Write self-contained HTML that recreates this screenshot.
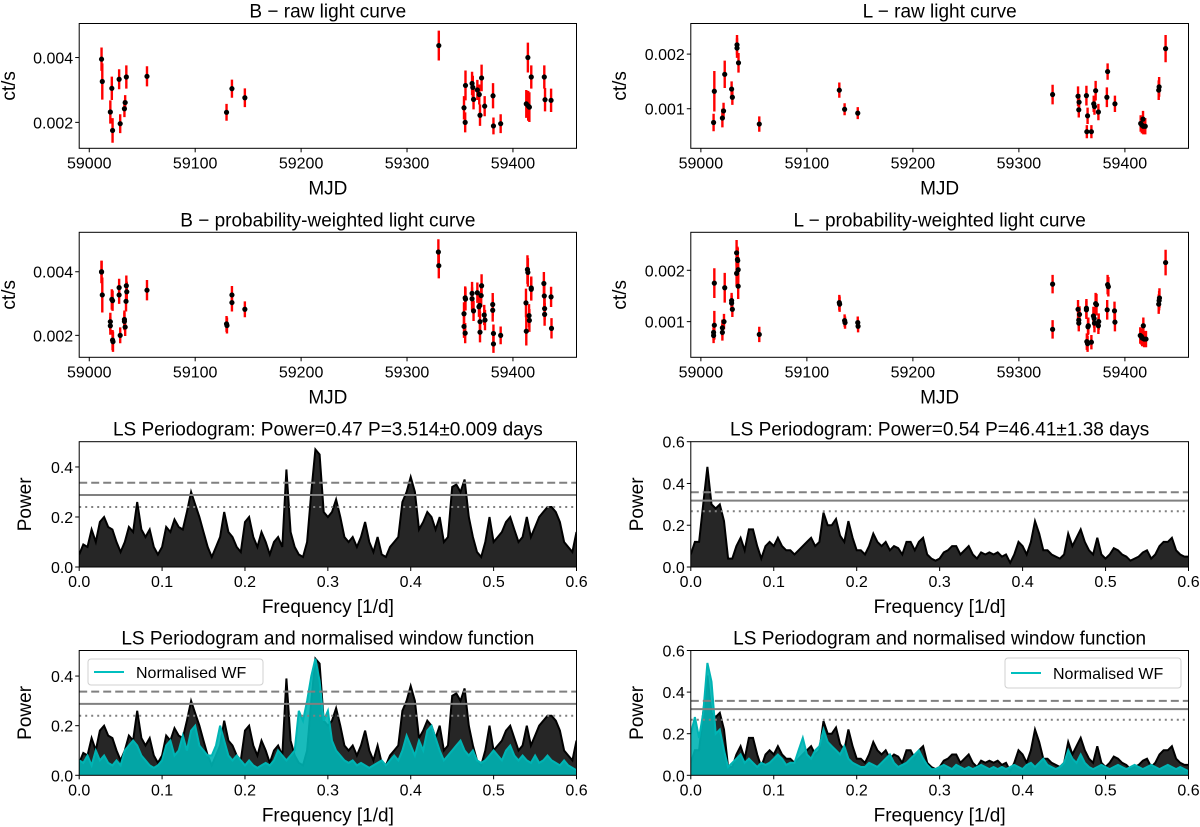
<!DOCTYPE html>
<html><head><meta charset="utf-8"><style>
html,body{margin:0;padding:0;background:#fff;}
svg{display:block;font-family:"Liberation Sans","DejaVu Sans",sans-serif;}
</style></head><body>
<svg id="fig" width="1200" height="827" viewBox="0 0 1200 827"></svg>
<script>
// ---------- Light curve data (MJD offsets from 59000, ct/s) ----------
const bRawDay=[11.6,12.3,19.9,21.3,22.0,28.2,29.2,33.2,33.9,35.0,54.5,129.6,134.7,146.9,330.0,353.8,354.9,355.2,361.4,362.1,362.8,366.4,368.2,368.9,370.4,373.3,381.2,381.6,388.4,412.6,414.1,414.4,415.5,417.3,429.6,430.3,436.0];
const bRawVal=[0.00395,0.00326,0.00232,0.00305,0.00175,0.00333,0.00196,0.00242,0.00261,0.0034,0.00342,0.00231,0.00304,0.00276,0.00437,0.00245,0.0020,0.00314,0.0032,0.00308,0.00271,0.0030,0.00286,0.00222,0.00337,0.0025,0.00282,0.00189,0.00196,0.00257,0.0040,0.00251,0.00247,0.0034,0.0034,0.0027,0.00268];
const bRawErr=[0.00036,0.00056,0.00036,0.00036,0.00038,0.00031,0.00029,0.00026,0.00023,0.00036,0.00031,0.00026,0.00028,0.00029,0.00046,0.00036,0.00031,0.00046,0.00036,0.00036,0.00031,0.00031,0.00031,0.00033,0.00041,0.00031,0.00039,0.00026,0.00029,0.00043,0.00046,0.00046,0.00046,0.00036,0.00036,0.00036,0.00036];

const lRawDay=[12.0,12.7,20.3,21.4,22.5,29.0,29.7,34.1,34.1,35.5,55.1,130.6,135.6,148.0,331.8,355.8,356.8,356.5,363.7,364.8,364.1,368.4,370.6,371.3,372.4,375.0,383.7,383.0,390.6,414.9,416.0,417.1,417.4,419.2,431.9,432.3,438.4];
const lRawVal=[0.000748,0.00132,0.00083,0.00096,0.00163,0.00136,0.00121,0.00217,0.00211,0.00184,0.00072,0.00134,0.00099,0.00092,0.00126,0.00123,0.00112,0.00098,0.00124,0.00087,0.00058,0.00058,0.00109,0.00104,0.00133,0.00094,0.00168,0.00121,0.00109,0.00073,0.0007,0.00081,0.00068,0.00068,0.00134,0.0014,0.0021];
const lRawErr=[0.00016,0.00037,0.00017,0.00015,0.00025,0.00014,0.00014,0.00018,0.00018,0.00018,0.00014,0.00014,0.00011,0.00011,0.00018,0.00018,0.00015,0.00014,0.00018,0.00015,0.00012,0.00012,0.00015,0.00015,0.00018,0.00015,0.00015,0.00018,0.00015,0.00015,0.00015,0.00015,0.00015,0.00015,0.00018,0.00018,0.00025];

const bPwDay=[11.6,11.6,12.3,19.9,19.9,21.3,22.0,22.0,22.4,28.2,28.2,29.2,33.2,33.2,33.9,34.7,35.0,35.4,54.5,129.6,130.0,134.7,134.7,146.9,329.6,330.0,353.8,353.8,354.9,354.9,355.2,361.4,361.4,362.8,366.4,367.9,368.6,368.9,368.9,370.0,370.4,372.9,373.6,380.9,380.9,381.6,381.6,388.4,412.3,412.6,413.7,414.1,415.2,415.5,417.3,417.3,429.2,429.6,429.9,429.9,436.0,436.4];
const bPwVal=[0.00399,0.004,0.00327,0.00243,0.0023,0.00313,0.00309,0.00185,0.0018,0.0035,0.00327,0.002,0.0025,0.00244,0.00226,0.00307,0.00356,0.00337,0.00342,0.00236,0.00231,0.00327,0.00303,0.00282,0.00462,0.00419,0.00268,0.00228,0.00207,0.00318,0.00314,0.00332,0.00315,0.00277,0.00334,0.0029,0.00294,0.00243,0.0021,0.00325,0.00356,0.00264,0.00248,0.00297,0.00279,0.00206,0.00173,0.002,0.00302,0.00213,0.00407,0.00398,0.00262,0.00247,0.00349,0.00345,0.00363,0.00324,0.00284,0.00266,0.00321,0.00222];
const bPwErr=[0.00035,0.00035,0.00055,0.00028,0.00028,0.00032,0.00032,0.00032,0.00032,0.00028,0.00028,0.00025,0.00028,0.00028,0.00028,0.00032,0.00032,0.00032,0.00032,0.00025,0.00025,0.00028,0.00028,0.00025,0.0004,0.0004,0.00036,0.00036,0.00032,0.00036,0.00036,0.00036,0.00036,0.00032,0.00032,0.00032,0.00032,0.00032,0.00032,0.00036,0.00036,0.00032,0.00032,0.00036,0.00036,0.00028,0.00028,0.00028,0.00045,0.00045,0.00045,0.00045,0.00036,0.00036,0.00036,0.00036,0.00036,0.00036,0.00036,0.00036,0.00032,0.00032];

const lPwDay=[12.0,12.0,12.7,12.7,20.3,20.3,21.8,22.5,29.0,29.0,29.7,33.7,34.5,34.8,33.7,35.2,35.2,55.1,130.6,130.9,135.6,136.0,148.0,148.3,331.8,331.8,355.8,356.5,356.5,357.2,363.7,363.7,364.1,364.8,365.2,365.5,368.4,370.3,371.0,371.3,372.4,373.2,375.0,375.3,383.3,383.7,384.4,390.2,390.6,414.5,415.6,416.3,417.4,418.1,419.9,431.9,432.3,432.6,438.4];
const lPwVal=[0.00079,0.00073,0.00093,0.00175,0.00088,0.00079,0.001,0.00166,0.00141,0.00136,0.00124,0.00234,0.00221,0.00219,0.00194,0.00201,0.00169,0.00075,0.00137,0.00134,0.00102,0.00098,0.00098,0.00091,0.00173,0.00085,0.00124,0.00103,0.00097,0.00114,0.00126,0.00123,0.00061,0.00057,0.0009,0.00092,0.0006,0.00111,0.00106,0.00097,0.00135,0.00133,0.00092,0.001,0.00123,0.00172,0.00168,0.00121,0.00099,0.00073,0.00071,0.00068,0.00092,0.00066,0.00066,0.00134,0.00141,0.00146,0.00215];
const lPwErr=[0.00015,0.00015,0.00028,0.00029,0.00016,0.00016,0.00015,0.00029,0.00015,0.00015,0.00015,0.00025,0.00025,0.00025,0.00025,0.00025,0.00025,0.00015,0.00015,0.00015,0.00012,0.00012,0.00012,0.00012,0.00018,0.00018,0.00018,0.00016,0.00016,0.00016,0.00018,0.00018,0.00016,0.00016,0.00016,0.00016,0.00014,0.00018,0.00018,0.00018,0.00021,0.00021,0.00016,0.00016,0.00019,0.00019,0.00019,0.00018,0.00018,0.00016,0.00016,0.00016,0.00016,0.00016,0.00016,0.00019,0.00019,0.00019,0.00025];

// ---------- Periodogram data (frequency step 0.005 from 0 to 0.6) ----------
const freqStep=0.005;
const bPower=[0.05,0.09,0.08,0.15,0.10,0.18,0.20,0.16,0.15,0.10,0.06,0.10,0.16,0.14,0.26,0.15,0.12,0.15,0.08,0.05,0.08,0.16,0.14,0.19,0.16,0.15,0.22,0.30,0.25,0.20,0.14,0.08,0.04,0.08,0.12,0.22,0.14,0.12,0.08,0.06,0.18,0.20,0.12,0.08,0.14,0.10,0.05,0.10,0.12,0.08,0.39,0.14,0.08,0.05,0.04,0.10,0.30,0.47,0.45,0.22,0.20,0.22,0.27,0.20,0.12,0.10,0.12,0.08,0.12,0.18,0.10,0.06,0.12,0.05,0.04,0.08,0.10,0.12,0.26,0.30,0.36,0.30,0.15,0.18,0.22,0.20,0.15,0.20,0.10,0.12,0.32,0.33,0.30,0.35,0.20,0.12,0.06,0.04,0.10,0.20,0.10,0.12,0.14,0.18,0.20,0.15,0.10,0.12,0.20,0.12,0.16,0.20,0.22,0.24,0.24,0.22,0.18,0.10,0.08,0.06,0.14];
const lPower=[0.06,0.12,0.12,0.30,0.48,0.30,0.28,0.30,0.22,0.04,0.04,0.10,0.14,0.08,0.18,0.18,0.10,0.04,0.10,0.12,0.10,0.14,0.10,0.08,0.08,0.06,0.08,0.10,0.12,0.14,0.10,0.12,0.26,0.20,0.20,0.23,0.15,0.12,0.22,0.14,0.08,0.08,0.06,0.10,0.16,0.12,0.10,0.12,0.08,0.10,0.09,0.06,0.12,0.12,0.08,0.12,0.14,0.06,0.04,0.03,0.04,0.07,0.08,0.10,0.10,0.06,0.08,0.10,0.06,0.04,0.07,0.06,0.07,0.06,0.07,0.05,0.06,0.02,0.06,0.12,0.10,0.06,0.12,0.22,0.16,0.08,0.08,0.06,0.05,0.04,0.06,0.16,0.10,0.14,0.18,0.12,0.08,0.06,0.14,0.06,0.04,0.06,0.09,0.08,0.06,0.05,0.03,0.04,0.05,0.07,0.08,0.04,0.06,0.10,0.12,0.12,0.14,0.08,0.06,0.05,0.05];
const bWindow=[0.06,0.05,0.08,0.04,0.10,0.06,0.08,0.05,0.04,0.06,0.04,0.10,0.12,0.14,0.12,0.08,0.06,0.04,0.03,0.04,0.06,0.12,0.14,0.08,0.10,0.16,0.10,0.18,0.20,0.12,0.10,0.08,0.08,0.12,0.20,0.14,0.08,0.06,0.08,0.06,0.04,0.06,0.04,0.03,0.04,0.05,0.04,0.06,0.10,0.08,0.06,0.08,0.10,0.26,0.22,0.30,0.40,0.47,0.38,0.22,0.26,0.14,0.10,0.08,0.06,0.05,0.06,0.04,0.05,0.04,0.03,0.04,0.05,0.06,0.04,0.06,0.08,0.06,0.10,0.16,0.12,0.08,0.14,0.10,0.18,0.20,0.15,0.10,0.06,0.08,0.10,0.12,0.14,0.10,0.08,0.10,0.06,0.05,0.06,0.08,0.10,0.08,0.06,0.10,0.12,0.08,0.06,0.08,0.06,0.05,0.08,0.05,0.06,0.08,0.06,0.05,0.04,0.06,0.04,0.03,0.02];
const lWindow=[0.20,0.28,0.18,0.30,0.54,0.45,0.20,0.22,0.12,0.04,0.06,0.08,0.10,0.06,0.08,0.06,0.04,0.06,0.05,0.06,0.08,0.10,0.08,0.05,0.06,0.06,0.12,0.18,0.10,0.08,0.12,0.14,0.22,0.16,0.14,0.12,0.10,0.14,0.08,0.06,0.05,0.04,0.04,0.06,0.05,0.04,0.06,0.08,0.10,0.06,0.04,0.05,0.06,0.08,0.10,0.12,0.08,0.05,0.03,0.03,0.04,0.05,0.04,0.03,0.05,0.04,0.03,0.04,0.03,0.04,0.05,0.04,0.03,0.04,0.03,0.04,0.03,0.04,0.05,0.04,0.03,0.05,0.06,0.04,0.06,0.08,0.05,0.04,0.03,0.04,0.06,0.12,0.08,0.06,0.10,0.06,0.04,0.03,0.04,0.05,0.04,0.03,0.04,0.05,0.04,0.03,0.04,0.05,0.04,0.03,0.04,0.05,0.04,0.03,0.04,0.05,0.04,0.03,0.04,0.03,0.02];
const bThresh=[0.337,0.288,0.24];
const lThresh=[0.358,0.318,0.267];
const lcTicksB=[0.002,0.004];
const lcTicksL=[0.001,0.002];
const mjdTicks=[59000,59100,59200,59300,59400];
const freqTicks=[0,0.1,0.2,0.3,0.4,0.5,0.6];
const powTicksB=[0,0.2,0.4];
const powTicksL=[0,0.2,0.4,0.6];

const NS='http://www.w3.org/2000/svg';
const svg=document.getElementById('fig');
function mk(tag,attrs,parent){const e=document.createElementNS(NS,tag);for(const k in attrs)e.setAttribute(k,attrs[k]);(parent||svg).appendChild(e);return e;}

const COLS=[[79.2,576.5],[690.8,1188.5]];
const ROWS=[[23.5,148.3],[232.3,357.3],[441.7,567],[650.5,775.3]];

function makeAxes(col,row,xd,yd,name){
  const [x0,x1]=COLS[col],[y0,y1]=ROWS[row];
  const g=mk('g',{});
  
  
  const sx=v=>x0+(v-xd[0])/(xd[1]-xd[0])*(x1-x0);
  const sy=v=>y1-(v-yd[0])/(yd[1]-yd[0])*(y1-y0);
  const clip=mk('clipPath',{id:'clip-'+name},g);
  mk('rect',{x:x0,y:y0,width:x1-x0,height:y1-y0},clip);
  const plot=mk('g',{'clip-path':'url(#clip-'+name+')'},g);
  return {g,plot,sx,sy,x0,x1,y0,y1};
}
function frame(ax){
  const r=mk('rect',{x:ax.x0,y:ax.y0,width:ax.x1-ax.x0,height:ax.y1-ax.y0,fill:'none',stroke:'#000','stroke-width':1},ax.g);
  
  
}
function xTicks(ax,ticks,fmt){
  ticks.forEach(t=>{const x=ax.sx(t);
    mk('line',{x1:x,x2:x,y1:ax.y1,y2:ax.y1+4,stroke:'#000','stroke-width':1},ax.g);
    const tx=mk('text',{x:x,y:ax.y1+20,'font-size':16,'text-anchor':'middle'},ax.g);tx.textContent=fmt(t);
    
    
  });
}
function yTicks(ax,ticks,fmt){
  ticks.forEach(t=>{const y=ax.sy(t);
    mk('line',{x1:ax.x0-4,x2:ax.x0,y1:y,y2:y,stroke:'#000','stroke-width':1},ax.g);
    const tx=mk('text',{x:ax.x0-6,y:y+6,'font-size':16,'text-anchor':'end'},ax.g);tx.textContent=fmt(t);
    
    
  });
}
function labels(ax,title,xl,yl,ylx){
  const t=mk('text',{x:(ax.x0+ax.x1)/2,y:ax.y0-6,'font-size':19,'text-anchor':'middle'},ax.g);t.textContent=title;
  
  
  const x=mk('text',{x:(ax.x0+ax.x1)/2,y:ax.y1+46,'font-size':19,'text-anchor':'middle'},ax.g);x.textContent=xl;
  
  
  const cy=(ax.y0+ax.y1)/2;
  const y=mk('text',{x:ylx,y:cy,'font-size':19,'text-anchor':'middle',transform:'rotate(-90 '+ylx+' '+cy+')'},ax.g);y.textContent=yl;
  
  
}
function lightCurve(col,row,ydom,days,vals,errs,ticks,title,name,ylx){
  const ax=makeAxes(col,row,[58990.5,59460],ydom,name);
  days.forEach((d,i)=>{const x=ax.sx(59000+d);
    const e=mk('line',{x1:x,x2:x,y1:ax.sy(vals[i]-errs[i]),y2:ax.sy(vals[i]+errs[i]),stroke:'#ff0000','stroke-width':2.4},ax.plot);
    
    
  });
  days.forEach((d,i)=>{
    const c=mk('circle',{cx:ax.sx(59000+d),cy:ax.sy(vals[i]),r:2.6,fill:'#000'},ax.plot);
    
    
  });
  frame(ax);
  xTicks(ax,mjdTicks,t=>String(t));
  yTicks(ax,ticks,t=>t.toFixed(3));
  labels(ax,title,'MJD','ct/s',ylx);
}
function series(ax,arr,color,fillOp,name){
  let pts=arr.map((v,i)=>ax.sx(i*freqStep).toFixed(1)+','+ax.sy(v).toFixed(1));
  const f=mk('polygon',{points:ax.sx(0)+','+ax.sy(0)+' '+pts.join(' ')+' '+ax.sx((arr.length-1)*freqStep)+','+ax.sy(0),fill:color,'fill-opacity':fillOp,stroke:'none'},ax.plot);
  
  
  const l=mk('polyline',{points:pts.join(' '),fill:'none',stroke:color,'stroke-width':2,'stroke-linejoin':'miter'},ax.plot);
  
  
}
function thresholds(ax,th){
  const dash=['8,4','','2,4'];
  th.forEach((v,i)=>{
    const l=mk('line',{x1:ax.x0,x2:ax.x1,y1:ax.sy(v),y2:ax.sy(v),stroke:'#808080','stroke-width':2,'stroke-dasharray':dash[i]},ax.plot);
    
    
  });
}
function periodogram(col,row,ymax,power,win,th,ticks,title,name,ylx,legend){
  const ax=makeAxes(col,row,[0,ymax],[0,ymax],name);
  ax.sx=v=>ax.x0+v/0.6*(ax.x1-ax.x0);
  series(ax,power,'#000',0.85,'power');
  if(win) series(ax,win,'#00b4b4',0.9,'window-function');
  thresholds(ax,th);
  frame(ax);
  xTicks(ax,freqTicks,t=>t.toFixed(1));
  yTicks(ax,ticks,t=>t.toFixed(1));
  labels(ax,title,'Frequency [1/d]','Power',ylx);
  if(legend){
    const [lx,ly,lw,lh]=legend;
    const lg=mk('g',{},ax.g);
    
    
    mk('rect',{x:lx,y:ly,width:lw,height:lh,rx:3,fill:'#fff','fill-opacity':0.85,stroke:'#d0d0d0'},lg);
    mk('line',{x1:lx+6,x2:lx+36,y1:ly+lh/2,y2:ly+lh/2,stroke:'#00bfbf','stroke-width':2},lg);
    const t=mk('text',{x:lx+48,y:ly+lh/2+6,'font-size':16},lg);t.textContent='Normalised WF';
    
    
  }
}

lightCurve(0,0,[0.0012,0.00505],bRawDay,bRawVal,bRawErr,lcTicksB,'B \u2212 raw light curve','b-raw-light-curve',15);
lightCurve(1,0,[0.000276,0.00256],lRawDay,lRawVal,lRawErr,lcTicksL,'L \u2212 raw light curve','l-raw-light-curve',626);
lightCurve(0,1,[0.00131,0.00524],bPwDay,bPwVal,bPwErr,lcTicksB,'B \u2212 probability-weighted light curve','b-weighted-light-curve',15);
lightCurve(1,1,[0.000305,0.00274],lPwDay,lPwVal,lPwErr,lcTicksL,'L \u2212 probability-weighted light curve','l-weighted-light-curve',626);
periodogram(0,2,0.501,bPower,null,bThresh,powTicksB,'LS Periodogram: Power=0.47 P=3.514\u00b10.009 days','b-periodogram',31,null);
periodogram(1,2,0.6,lPower,null,lThresh,powTicksL,'LS Periodogram: Power=0.54 P=46.41\u00b11.38 days','l-periodogram',643,null);
periodogram(0,3,0.503,bPower,bWindow,bThresh,powTicksB,'LS Periodogram and normalised window function','b-periodogram-window',31,[88,659,175,26]);
periodogram(1,3,0.6,lPower,lWindow,lThresh,powTicksL,'LS Periodogram and normalised window function','l-periodogram-window',643,[1005,658,176,30]);
</script>
</body></html>
